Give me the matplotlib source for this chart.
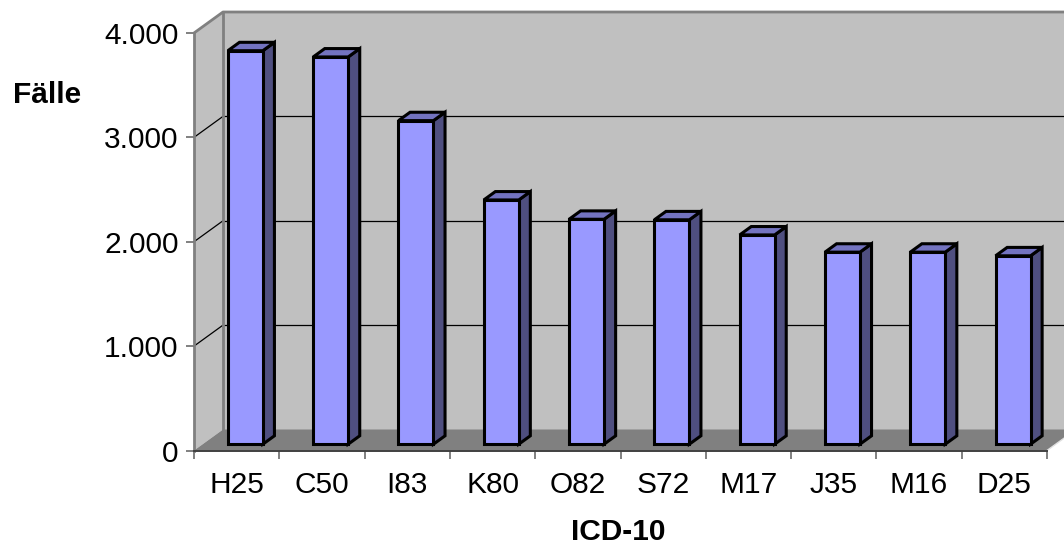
import matplotlib
matplotlib.use("Agg")
import matplotlib.pyplot as plt
from matplotlib.patches import Polygon
from matplotlib.ticker import FixedLocator

categories = ["H25", "C50", "I83", "K80", "O82", "S72", "M17", "J35", "M16", "D25"]
values = [3770, 3710, 3100, 2340, 2155, 2150, 2005, 1840, 1840, 1805]
y_ticks = [0, 1000, 2000, 3000, 4000]
y_tick_labels = ["0", "1.000", "2.000", "3.000", "4.000"]

plt.rcParams["font.family"] = ["Liberation Sans", "DejaVu Sans"]

W, H = 1064, 549
fig = plt.figure(figsize=(W / 100, H / 100), dpi=100)
left_px, right_px, bot_px, top_px = 194, 1047, 450.5, 33
ax = fig.add_axes([left_px / W, 1 - bot_px / H, (right_px - left_px) / W, (bot_px - top_px) / H])
n = len(categories)
ax.set_xlim(-0.5, n - 0.5)
ax.set_ylim(0, 4000)
ax.patch.set_visible(False)

DX = 29 / 85.3          # depth offset in category units
DY = 21 / 104.4 * 1000  # depth offset in value units
x0w, x1w = -0.5, n - 0.5
ytop = 4000

wall_c = "#c0c0c0"
floor_c = "#808080"
border_c = "#808080"

# back wall
ax.add_patch(Polygon([(x0w + DX, DY), (x1w + DX, DY), (x1w + DX, ytop + DY), (x0w + DX, ytop + DY)],
                     closed=True, fc=wall_c, ec="none", zorder=1, clip_on=False))
# left wall
ax.add_patch(Polygon([(x0w, 0), (x0w + DX, DY), (x0w + DX, ytop + DY), (x0w, ytop)],
                     closed=True, fc=wall_c, ec="none", zorder=1, clip_on=False))
# gridlines
for t in y_ticks[1:-1]:
    ax.plot([x0w + DX, x1w + DX], [t + DY, t + DY], color="black", lw=0.9, zorder=2, clip_on=False)
    ax.plot([x0w, x0w + DX], [t, t + DY], color="black", lw=0.9, zorder=2, clip_on=False)
# wall borders
ax.plot([x0w, x0w + DX, x1w + DX], [ytop, ytop + DY, ytop + DY], color=border_c, lw=2.0,
        zorder=3, clip_on=False, solid_capstyle="butt")
ax.plot([x0w + DX, x0w + DX], [DY, ytop + DY], color=border_c, lw=2.0, zorder=3, clip_on=False)
# floor
ax.add_patch(Polygon([(x0w, 0), (x1w, 0), (x1w + DX, DY), (x0w + DX, DY)],
                     closed=True, fc=floor_c, ec="none", zorder=3, clip_on=False))
ax.plot([x1w, x1w + DX], [0, DY], color="#e0e0e0", lw=1.0, zorder=3, clip_on=False)

# bars
w = 0.41
f0, fd = 0.3, 0.4
for i, v in enumerate(values):
    xa = i - w / 2 + f0 * DX
    xb = i + w / 2 + f0 * DX
    yb = f0 * DY
    yt = v + f0 * DY
    ddx, ddy = fd * DX, fd * DY
    kw = dict(closed=True, ec="black", lw=2.2, joinstyle="miter", clip_on=False, zorder=5)
    ax.add_patch(Polygon([(xb, yb), (xb + ddx, yb + ddy), (xb + ddx, yt + ddy), (xb, yt)], fc="#4f4f80", **kw))
    ax.add_patch(Polygon([(xa, yt), (xb, yt), (xb + ddx, yt + ddy), (xa + ddx, yt + ddy)], fc="#7373c0", **kw))
    ax.add_patch(Polygon([(xa, yb), (xb, yb), (xb, yt), (xa, yt)], fc="#9999ff", **kw))

# axes styling
for s in ["top", "right"]:
    ax.spines[s].set_visible(False)
ax.spines["left"].set_color(border_c)
ax.spines["left"].set_linewidth(2.0)
ax.spines["left"].set_zorder(4)
ax.spines["bottom"].set_color("#404040")
ax.spines["bottom"].set_linewidth(1.4)
ax.spines["bottom"].set_zorder(4)

ax.set_yticks(y_ticks)
ax.set_yticklabels(y_tick_labels)
ax.tick_params(axis="y", direction="out", length=6, width=1.4, color=border_c, pad=5, labelsize=21.5)

ax.set_xticks(range(n))
ax.set_xticklabels(categories)
ax.xaxis.set_minor_locator(FixedLocator([k - 0.5 for k in range(n + 1)]))
ax.tick_params(axis="x", which="major", length=0, pad=15, labelsize=21.5)
ax.tick_params(axis="x", which="minor", direction="out", length=6, width=1.4, color=border_c)

fig.text(47 / W, 1 - 95 / H, "Fälle", ha="center", va="center", fontsize=21.5, fontweight="bold")
fig.text(618 / W, 1 - 532 / H, "ICD-10", ha="center", va="center", fontsize=21.5, fontweight="bold")

fig.savefig("out.png", dpi=100)
